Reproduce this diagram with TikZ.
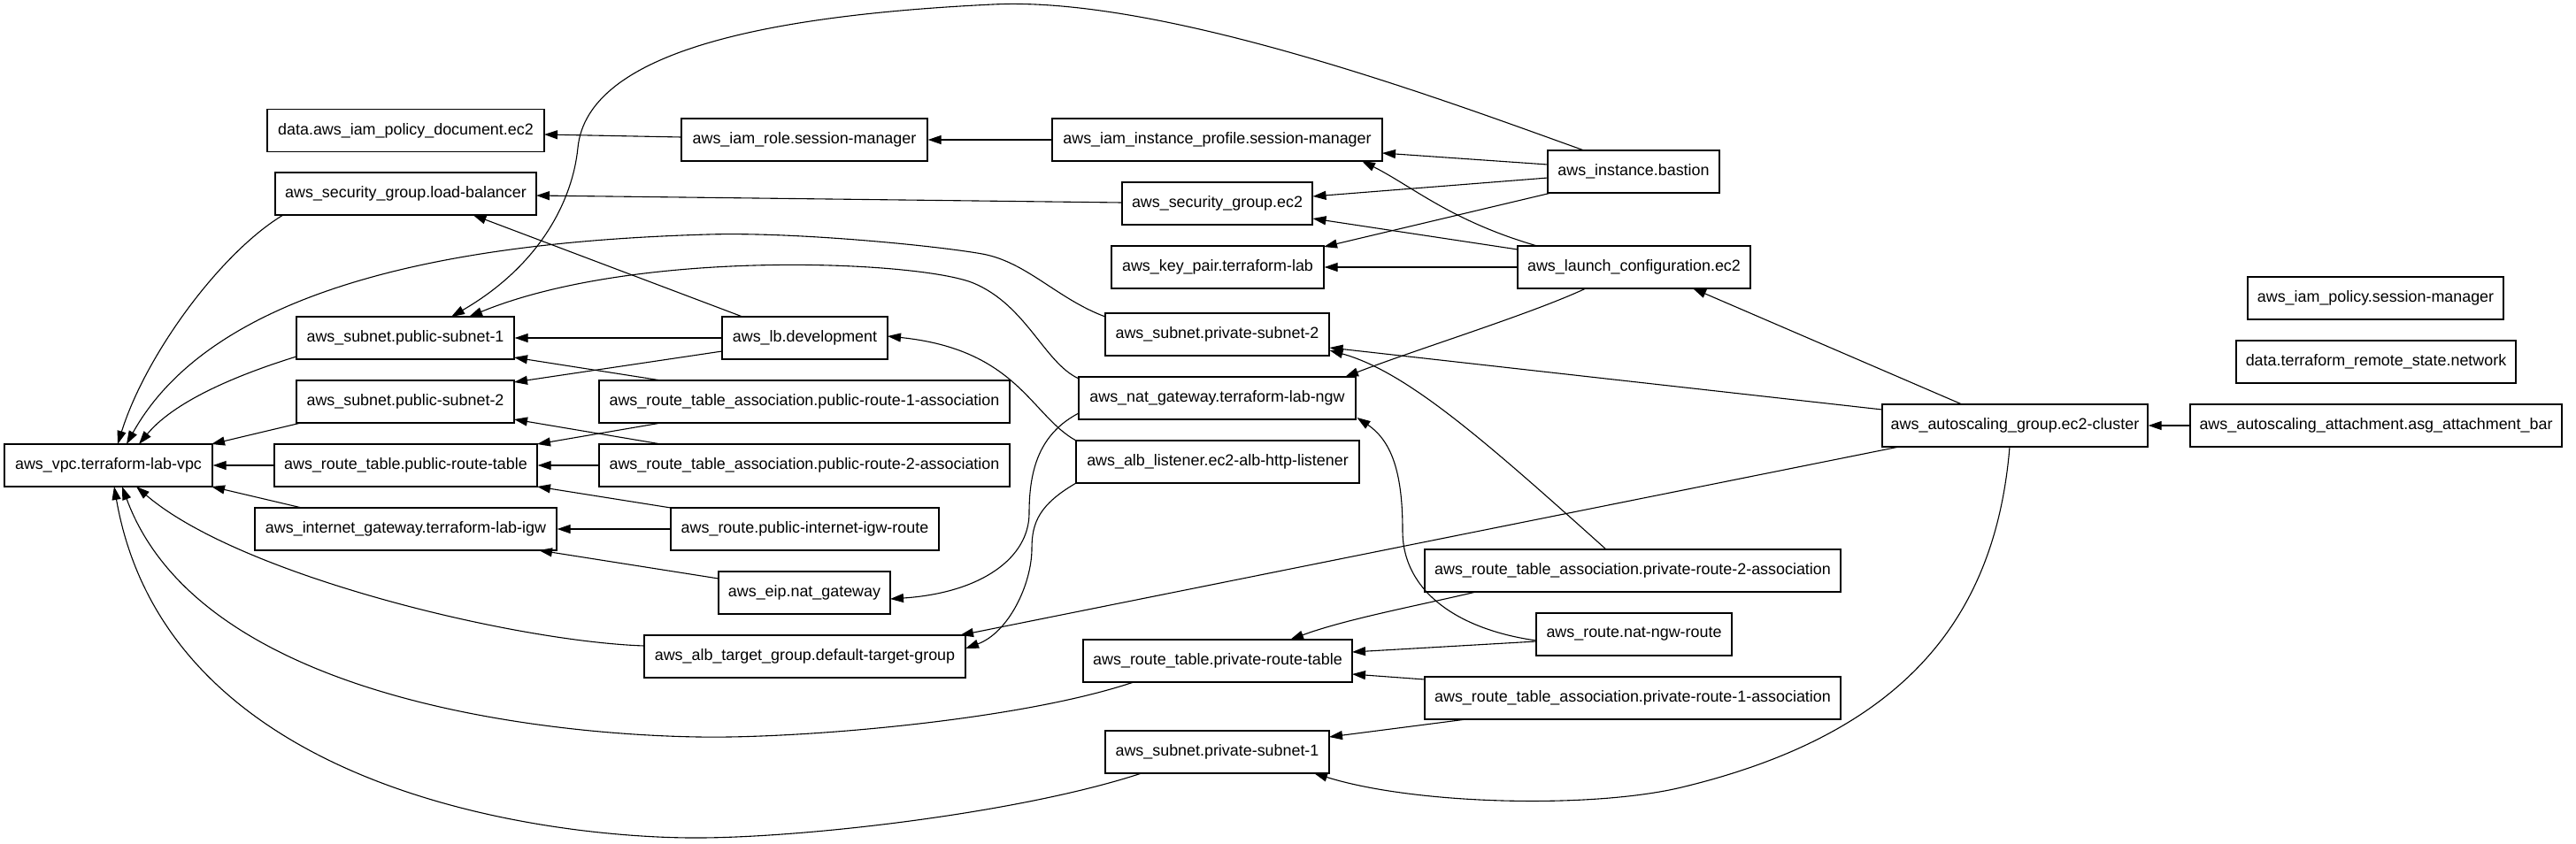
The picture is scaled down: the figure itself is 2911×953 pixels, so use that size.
\documentclass[tikz,border=0pt]{standalone}
\usepackage{fontspec}
\setmainfont{Liberation Sans}
\usetikzlibrary{arrows.meta}
\begin{document}
\begin{tikzpicture}[x=1pt,y=-1pt,
  box/.style={draw, line width=1.3pt, inner sep=0pt, minimum height=48pt, font=\fontsize{17.9}{22}\selectfont},
  edge/.style={line width=1.1pt, -{Triangle[length=15pt,width=10pt]}}]
\useasboundingbox (0,0) rectangle (2911,953);
% nodes
\node[box,minimum width=313pt] (doc) at (458.5,147.5) {data.aws\_iam\_policy\_document.ec2};
\node[box,minimum width=278pt] (role) at (909,158) {aws\_iam\_role.session-manager};
\node[box,minimum width=373pt] (profile) at (1375.5,158) {aws\_iam\_instance\_profile.session-manager};
\node[box,minimum width=194pt] (bastion) at (1846,194) {aws\_instance.bastion};
\node[box,minimum width=295pt] (sglb) at (458.5,219) {aws\_security\_group.load-balancer};
\node[box,minimum width=215pt] (sgec2) at (1375.5,230) {aws\_security\_group.ec2};
\node[box,minimum width=240pt] (key) at (1376,302) {aws\_key\_pair.terraform-lab};
\node[box,minimum width=263pt] (launch) at (1846.5,302) {aws\_launch\_configuration.ec2};
\node[box,minimum width=246pt] (pub1) at (458,382) {aws\_subnet.public-subnet-1};
\node[box,minimum width=187pt] (lb) at (909.5,382) {aws\_lb.development};
\node[box,minimum width=246pt] (pub2) at (458,454) {aws\_subnet.public-subnet-2};
\node[box,minimum width=464pt] (pra1) at (909,454) {aws\_route\_table\_association.public-route-1-association};
\node[box,minimum width=235pt] (vpc) at (122.5,526) {aws\_vpc.terraform-lab-vpc};
\node[box,minimum width=297pt] (prt) at (458.5,526) {aws\_route\_table.public-route-table};
\node[box,minimum width=464pt] (pra2) at (909,526) {aws\_route\_table\_association.public-route-2-association};
\node[box,minimum width=341pt] (igw) at (458.5,598) {aws\_internet\_gateway.terraform-lab-igw};
\node[box,minimum width=303pt] (igwr) at (909.5,598) {aws\_route.public-internet-igw-route};
\node[box,minimum width=194pt] (eip) at (909,670) {aws\_eip.nat\_gateway};
\node[box,minimum width=363pt] (atg) at (909.5,742) {aws\_alb\_target\_group.default-target-group};
\node[box,minimum width=253pt] (psub2) at (1375.5,378) {aws\_subnet.private-subnet-2};
\node[box,minimum width=313pt] (nat) at (1375.5,450) {aws\_nat\_gateway.terraform-lab-ngw};
\node[box,minimum width=320pt] (listener) at (1376,522) {aws\_alb\_listener.ec2-alb-http-listener};
\node[box,minimum width=470pt] (prra2) at (1845,645) {aws\_route\_table\_association.private-route-2-association};
\node[box,minimum width=221pt] (ngwr) at (1846.5,717) {aws\_route.nat-ngw-route};
\node[box,minimum width=304pt] (privrt) at (1376,747) {aws\_route\_table.private-route-table};
\node[box,minimum width=470pt] (prra1) at (1845,789) {aws\_route\_table\_association.private-route-1-association};
\node[box,minimum width=253pt] (psub1) at (1375.5,850) {aws\_subnet.private-subnet-1};
\node[box,minimum width=289pt] (iampol) at (2684.5,337) {aws\_iam\_policy.session-manager};
\node[box,minimum width=316pt] (remote) at (2685,409) {data.terraform\_remote\_state.network};
\node[box,minimum width=300pt] (asg) at (2277,481) {aws\_autoscaling\_group.ec2-cluster};
\node[box,minimum width=420pt] (asga) at (2685,481) {aws\_autoscaling\_attachment.asg\_attachment\_bar};
% edges
\draw[edge] ([shift={(-139,-3)}]role.center) -- ([shift={(156.5,4.5)}]doc.center);
\draw[edge] (profile.west) -- (role.east);
\draw[edge] ([shift={(-97,-8)}]bastion.center) -- ([shift={(186.5,15)}]profile.center);
\draw[edge] ([shift={(-97,7)}]bastion.center) -- ([shift={(108,-8)}]sgec2.center);
\draw[edge] ([shift={(-93,24)}]bastion.center) -- ([shift={(120,-23)}]key.center);
\draw[edge] ([shift={(-56,-24)}]bastion.center) .. controls (1650,120) and (1320,-5) .. (1122,5)
  .. controls (872,17) and (664,57) .. (653,167)
  .. controls (647,227) and (610,300) .. ([shift={(52,-24)}]pub1.center);
\draw[edge] ([shift={(-107.5,-1)}]sgec2.center) -- ([shift={(147.5,2)}]sglb.center);
\draw[edge] ([shift={(-109.5,-24)}]launch.center) .. controls (1640,250) and (1595,210) .. ([shift={(163.5,24)}]profile.center);
\draw[edge] ([shift={(-131.5,-20)}]launch.center) -- ([shift={(108,17)}]sgec2.center);
\draw[edge] (launch.west) -- (key.east);
\draw[edge] ([shift={(-54.5,24)}]launch.center) .. controls (1730,355) and (1600,395) .. ([shift={(144.5,-24)}]nat.center);
\draw[edge] ([shift={(-60,-24)}]asg.center) -- ([shift={(66.5,24)}]launch.center);
\draw[edge] ([shift={(-150,-18)}]asg.center) -- ([shift={(127,15)}]psub2.center);
\draw[edge] ([shift={(-131,24)}]asg.center) -- ([shift={(175.5,-24)}]atg.center);
\draw[edge] ([shift={(-6,24)}]asg.center) .. controls (2255,700) and (2150,830) .. (1900,890)
  .. controls (1800,914) and (1600,910) .. ([shift={(109.5,24)}]psub1.center);
\draw[edge] (asga.west) -- (asg.east);
\draw[edge] (lb.west) -- (pub1.east);
\draw[edge] ([shift={(-70.5,-24)}]lb.center) -- ([shift={(76,24)}]sglb.center);
\draw[edge] ([shift={(-93.5,15)}]lb.center) -- ([shift={(123,-22)}]pub2.center);
\draw[edge] ([shift={(-162,-24)}]pra1.center) -- ([shift={(123,22)}]pub1.center);
\draw[edge] ([shift={(-162,24)}]pra1.center) -- ([shift={(148.5,-24)}]prt.center);
\draw[edge] (pra2.west) -- (prt.east);
\draw[edge] ([shift={(-162,-24)}]pra2.center) -- ([shift={(123,20)}]pub2.center);
\draw[edge] ([shift={(-151.5,-24)}]igwr.center) -- ([shift={(148.5,24)}]prt.center);
\draw[edge] (igwr.west) -- (igw.east);
\draw[edge] ([shift={(-97,-16)}]eip.center) -- ([shift={(150.5,24)}]igw.center);
\draw[edge] (prt.west) -- (vpc.east);
\draw[edge] ([shift={(-117.5,-24)}]igw.center) -- ([shift={(116.5,24)}]vpc.center);
\draw[edge] ([shift={(-118,24)}]pub2.center) -- ([shift={(116.5,-24)}]vpc.center);
\draw[edge] ([shift={(-123,21)}]pub1.center) .. controls (280,420) and (200,450) .. ([shift={(34.5,-24)}]vpc.center);
\draw[edge] ([shift={(-138.5,24)}]sglb.center) .. controls (250,285) and (165,400) .. ([shift={(10.5,-24)}]vpc.center);
\draw[edge] ([shift={(-126.5,-20)}]psub2.center) .. controls (1195,338) and (1160,296) .. (1110,287)
  .. controls (1060,278) and (900,262) .. (800,265)
  .. controls (560,272) and (250,310) .. ([shift={(20.5,-24)}]vpc.center);
\draw[edge] ([shift={(-156.5,-22)}]nat.center) .. controls (1180,410) and (1160,345) .. (1100,320)
  .. controls (1040,295) and (720,280) .. ([shift={(72,-24)}]pub1.center);
\draw[edge] ([shift={(-156.5,17)}]nat.center) .. controls (1175,490) and (1163,530) .. (1163,580)
  .. controls (1163,630) and (1110,670) .. ([shift={(97,7)}]eip.center);
\draw[edge] ([shift={(-160,24)}]listener.center) .. controls (1175,570) and (1166,590) .. (1166,620)
  .. controls (1166,660) and (1140,715) .. ([shift={(181.5,-9)}]atg.center);
\draw[edge] ([shift={(-160,-24)}]listener.center) .. controls (1165,470) and (1150,395) .. ([shift={(93.5,-2)}]lb.center);
\draw[edge] ([shift={(-181.5,-12)}]atg.center) .. controls (580,725) and (270,650) .. ([shift={(31.5,24)}]vpc.center);
\draw[edge] ([shift={(-95,24)}]privrt.center) .. controls (1150,815) and (900,835) .. (790,833)
  .. controls (650,831) and (230,800) .. ([shift={(15.5,24)}]vpc.center);
\draw[edge] ([shift={(-85.5,24)}]psub1.center) .. controls (1150,920) and (900,948) .. (780,947)
  .. controls (630,946) and (190,900) .. ([shift={(6.5,24)}]vpc.center);
\draw[edge] ([shift={(-177,24)}]prra2.center) .. controls (1600,685) and (1520,700) .. ([shift={(82,-24)}]privrt.center);
\draw[edge] ([shift={(-30,-24)}]prra2.center) .. controls (1680,500) and (1590,420) .. ([shift={(127,18)}]psub2.center);
\draw[edge] ([shift={(-110.5,8)}]ngwr.center) -- ([shift={(152,-10)}]privrt.center);
\draw[edge] ([shift={(-110.5,7)}]ngwr.center) .. controls (1650,712) and (1585,670) .. (1585,600)
  .. controls (1585,540) and (1575,500) .. ([shift={(158,22)}]nat.center);
\draw[edge] ([shift={(-235,-21)}]prra1.center) -- ([shift={(152,15)}]privrt.center);
\draw[edge] ([shift={(-188,24)}]prra1.center) -- ([shift={(126.5,-17)}]psub1.center);
\end{tikzpicture}
\end{document}
